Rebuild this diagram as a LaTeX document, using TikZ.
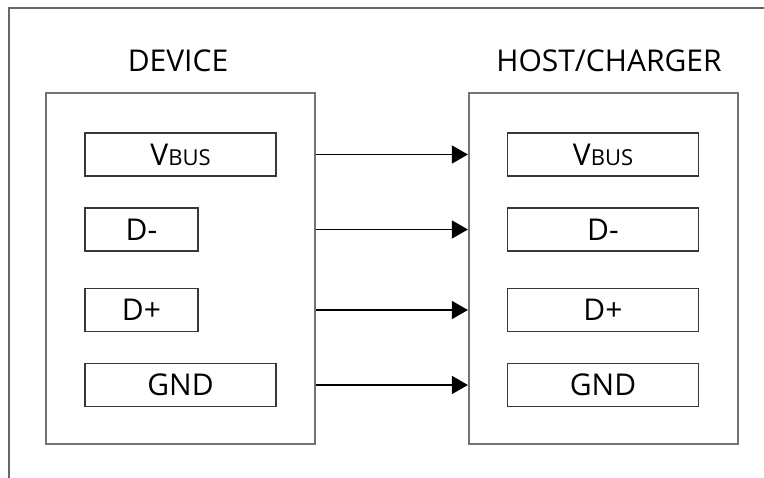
\documentclass[tikz,border=0pt]{standalone}
\usepackage{fontspec}
\setmainfont{Open Sans}
\usetikzlibrary{arrows.meta}
\begin{document}
\begin{tikzpicture}[x=1pt,y=-1pt,
  framel/.style={draw=black!60,line width=2pt},
  outerbox/.style={draw=black!55,line width=2.2pt,inner sep=0pt,minimum width=269pt,minimum height=351pt},
  pinbox/.style={draw=black!78,line width=1.6pt,inner sep=0pt,minimum height=43pt,text=black,font=\fontsize{30}{30}\selectfont},
  wide/.style={pinbox,minimum width=191pt},
  narrow/.style={pinbox,minimum width=113pt},
  title/.style={anchor=base,text=black,font=\fontsize{30}{30}\selectfont,inner sep=0pt},
  arr/.style={draw=black,line width=1.5pt,-{Triangle[length=16pt,width=18pt]}}
]
\useasboundingbox (0,0) rectangle (764,478);
\coordinate (ftop) at (764,8);
\coordinate (fcorner) at (9,8);
\coordinate (fbot) at (9,478);
\draw[framel] (ftop) -- (fcorner) -- (fbot);

\node[outerbox] (dev) at (180.5,268.5) {};
\node[outerbox] (host) at (603.5,268.5) {};

\node[title] (devt) at (178,72) {DEVICE};
\node[title] (hostt) at (609,72) {HOST/CHARGER};

\newcommand{\vbuslabel}{V{\fontsize{22}{22}\selectfont BUS}}

\node[wide] (dvbus) at (180.5,154.5) {\vbuslabel};
\node[narrow] (ddm) at (141.5,229.5) {D-};
\node[narrow] (ddp) at (141.5,310) {D+};
\node[wide] (dgnd) at (180.5,385) {GND};

\node[wide] (hvbus) at (603,154.5) {\vbuslabel};
\node[wide] (hdm) at (603,229.5) {D-};
\node[wide] (hdp) at (603,310) {D+};
\node[wide] (hgnd) at (603,385) {GND};

\draw[arr] (dev.east |- dvbus) -- (host.west |- hvbus);
\draw[arr] (dev.east |- ddm) -- (host.west |- hdm);
\draw[arr] (dev.east |- ddp) -- (host.west |- hdp);
\draw[arr] (dev.east |- dgnd) -- (host.west |- hgnd);
\end{tikzpicture}
\end{document}
